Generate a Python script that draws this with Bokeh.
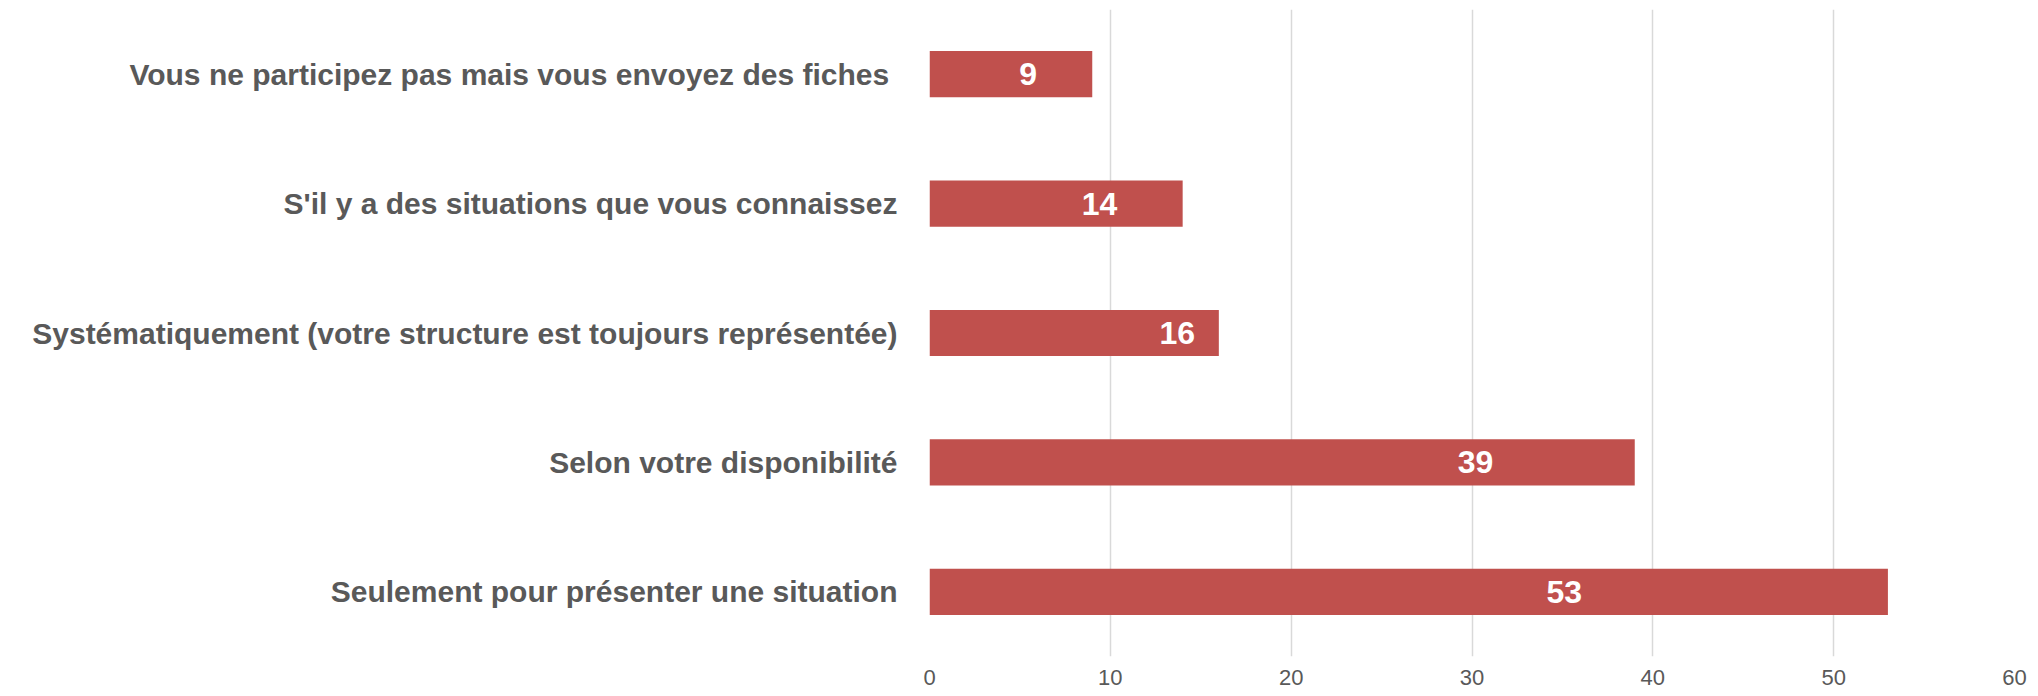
from bokeh.plotting import figure
from bokeh.models import ColumnDataSource, FactorRange, Range1d, FixedTicker
from bokeh.core.properties import value
from bokeh.embed import file_html
from bokeh.resources import INLINE

categories = [
    "Vous ne participez pas mais vous envoyez des fiches ",
    "S'il y a des situations que vous connaissez",
    "Systématiquement (votre structure est toujours représentée)",
    "Selon votre disponibilité",
    "Seulement pour présenter une situation",
]
counts = [9, 14, 16, 39, 53]
label_x = [5.45, 9.4, 13.7, 30.2, 35.1]
x_ticks = [0, 10, 20, 30, 40, 50, 60]

FONT = "Liberation Sans"

src = ColumnDataSource(dict(cat=categories, val=counts, lx=label_x,
                            txt=[str(v) for v in counts]))

p = figure(
    width=2030, height=694,
    y_range=FactorRange(factors=list(reversed(categories)), range_padding=0),
    x_range=Range1d(0, 60),
    output_backend="svg", toolbar_location=None,
    min_border_left=929, min_border_right=16, min_border_top=9, min_border_bottom=38,
)
p.outline_line_color = None
p.background_fill_color = "white"

p.hbar(y="cat", right="val", left=0, height=0.357, source=src,
       fill_color="#C0504D", line_color=None)
p.text(x="lx", y="cat", text="txt", source=src, text_align="center",
       text_baseline="middle", text_color="white",
       text_font=value(FONT), text_font_style="bold", text_font_size="32px")

p.xaxis.ticker = FixedTicker(ticks=x_ticks)
p.xaxis.axis_line_color = None
p.xaxis.major_tick_line_color = None
p.xaxis.minor_tick_line_color = None
p.xaxis.major_label_text_font = FONT
p.xaxis.major_label_text_font_size = "22px"
p.xaxis.major_label_text_color = "#595959"
p.xaxis.major_label_standoff = 7

p.yaxis.axis_line_color = None
p.yaxis.major_tick_line_color = None
p.yaxis.minor_tick_line_color = None
p.yaxis.major_label_text_font = FONT
p.yaxis.major_label_text_font_style = "bold"
p.yaxis.major_label_text_font_size = "30px"
p.yaxis.major_label_text_color = "#595959"
p.yaxis.major_label_standoff = 26

p.xgrid.grid_line_color = "#D9D9D9"
p.xgrid.grid_line_width = 1.5
p.ygrid.grid_line_color = None

open("out.html", "w").write(file_html(p, INLINE))
